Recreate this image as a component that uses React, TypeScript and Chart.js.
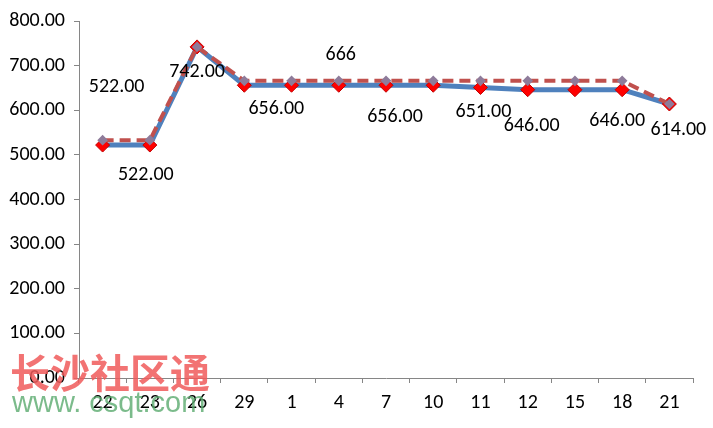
import React, { useEffect, useRef } from "react";
import { Chart, registerables } from "chart.js";

Chart.register(...registerables);

const categories = ["22", "23", "26", "29", "1", "4", "7", "10", "11", "12", "15", "18", "21"];
const actualValues = [522, 522, 742, 656, 656, 656, 656, 656, 651, 646, 646, 646, 614];
const referenceValues = [533, 533, 742, 666, 666, 666, 666, 666, 666, 666, 666, 666, 614];
const pointLabels = ["522.00", "522.00", "742.00", "656.00", "", "666", "656.00", "", "651.00", "646.00", "", "646.00", "614.00"];
const yTicks = [0, 100, 200, 300, 400, 500, 600, 700, 800];

// label offsets (px) relative to the blue point
const labelOffsets: [number, number][] = [
  [14, -58], [-4, 30], [0, 25], [32, 24], [0, 0], [2, -30], [9, 32], [0, 0], [3, 25], [4, 36], [0, 0], [-5, 31], [9, 26],
];

const FONT = "Carlito, Calibri, 'Open Sans', 'Liberation Sans', sans-serif";

const labelPlugin = {
  id: "pointLabelsAndWatermark",
  afterDatasetsDraw(chart: any) {
    const ctx = chart.ctx;
    const meta = chart.getDatasetMeta(0);
    ctx.save();
    ctx.font = `20px ${FONT}`;
    ctx.fillStyle = "#000";
    ctx.textAlign = "center";
    ctx.textBaseline = "middle";
    meta.data.forEach((el: any, i: number) => {
      const t = pointLabels[i];
      if (!t) return;
      const [dx, dy] = labelOffsets[i];
      ctx.fillText(t, el.x + dx, el.y + dy);
    });
    ctx.restore();
  },
  afterDraw(chart: any) {
    const ctx = chart.ctx;
    ctx.save();
    ctx.textAlign = "left";
    ctx.textBaseline = "middle";
    ctx.font = `bold 40px 'Noto Sans CJK SC', sans-serif`;
    ctx.fillStyle = "rgba(240, 90, 90, 0.85)";
    ctx.fillText("长沙社区通", 10, 373);
    ctx.font = `29px 'Liberation Sans', Arial, sans-serif`;
    ctx.fillStyle = "rgba(90, 170, 110, 0.8)";
    ctx.fillText("www. csqt.com", 12, 404);
    ctx.restore();
  },
};

export default function App() {
  const ref = useRef<HTMLCanvasElement | null>(null);

  useEffect(() => {
    document.body.style.margin = "0";
    const chart = new Chart(ref.current as HTMLCanvasElement, {
      type: "line",
      data: {
        labels: categories,
        datasets: [
          {
            data: actualValues,
            borderColor: "#4F81BD",
            borderWidth: 5,
            pointStyle: "rectRot",
            pointRadius: 7,
            pointBackgroundColor: "#FF0000",
            pointBorderColor: "#C00000",
            pointBorderWidth: 1,
            tension: 0,
            order: 2,
          },
          {
            data: referenceValues,
            borderColor: "#C0504D",
            borderWidth: 4,
            borderDash: [11, 6],
            pointStyle: "rectRot",
            pointRadius: 2.5,
            pointBackgroundColor: "#8E7B9A",
            pointBorderColor: "#8E7B9A",
            tension: 0,
            order: 1,
          },
        ],
      },
      options: {
        animation: false,
        responsive: false,
        layout: { padding: { top: 18, right: 20, left: 0, bottom: 0 } },
        plugins: { legend: { display: false }, tooltip: { enabled: false } },
        scales: {
          x: {
            offset: true,
            grid: { offset: true, drawOnChartArea: false, tickLength: 5, color: "#868686" },
            border: { color: "#868686", width: 1 },
            ticks: { color: "#000", font: { size: 20, family: FONT }, padding: 8, maxRotation: 0 },
            afterFit: (s: any) => { s.height = 50; },
          },
          y: {
            min: 0,
            max: 800,
            afterBuildTicks: (s: any) => { s.ticks = yTicks.map((v) => ({ value: v })); },
            grid: { drawOnChartArea: false, tickLength: 5, color: "#868686" },
            border: { color: "#868686", width: 1 },
            ticks: {
              color: "#000",
              font: { size: 20, family: FONT },
              padding: 9,
              callback: (v: any) => Number(v).toFixed(2),
            },
            afterFit: (s: any) => { s.width = 79; },
          },
        },
      },
      plugins: [labelPlugin],
    });
    return () => chart.destroy();
  }, []);

  return (
    <div style={{ position: "fixed", left: 0, top: 0, width: 713, height: 428, background: "#fff" }}>
      <canvas ref={ref} width={713} height={428} />
    </div>
  );
}
